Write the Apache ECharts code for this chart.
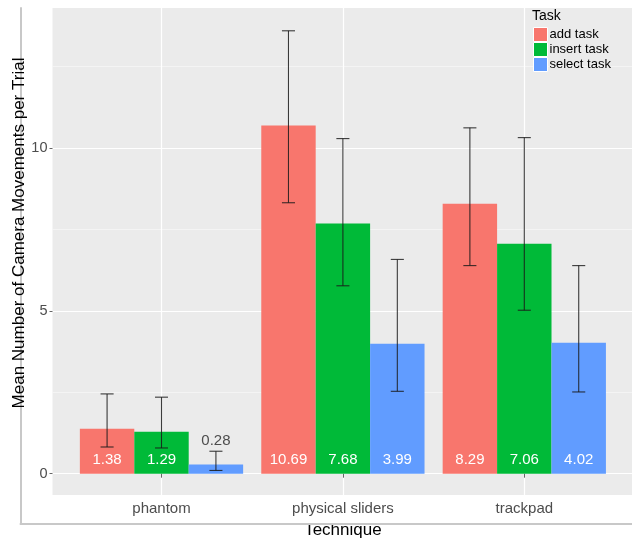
<!DOCTYPE html>
<html>
<head>
<meta charset="utf-8">
<script src="https://cdn.jsdelivr.net/npm/echarts@6/dist/echarts.min.js"></script>
<style>
html,body{margin:0;padding:0;background:#fff;}
#chart{width:632px;height:539px;}
</style>
</head>
<body>
<div id="chart"></div>
<script>
const categories = ['phantom', 'physical sliders', 'trackpad'];
const seriesNames = ['add task', 'insert task', 'select task'];
const addTask = [1.38, 10.69, 8.29];
const insertTask = [1.29, 7.68, 7.06];
const selectTask = [0.28, 3.99, 4.02];
const addLow = [0.82, 8.32, 6.39];
const addHigh = [2.45, 13.60, 10.62];
const insertLow = [0.79, 5.77, 5.02];
const insertHigh = [2.35, 10.29, 10.32];
const selectLow = [0.10, 2.53, 2.51];
const selectHigh = [0.69, 6.58, 6.39];
const colors = ['#F8766D', '#00BA38', '#619CFF'];
const xTitle = 'Technique';
const yTitle = 'Mean Number of Camera Movements per Trial';
const legendTitle = 'Task';

const FONT = '"Liberation Sans", Arial, Helvetica, sans-serif';
const chart = echarts.init(document.getElementById('chart'), null, {renderer: 'canvas'});

const values = [addTask, insertTask, selectTask];
const lows = [addLow, insertLow, selectLow];
const highs = [addHigh, insertHigh, selectHigh];

const errData = [];
for (let s = 0; s < 3; s++) {
  for (let c = 0; c < categories.length; c++) {
    errData.push([c, s, lows[s][c], highs[s][c]]);
  }
}

const barSeries = seriesNames.map((name, s) => ({
  name: name,
  type: 'bar',
  xAxisIndex: 2,
  yAxisIndex: 2,
  barGap: '0%',
  barCategoryGap: '10%',
  itemStyle: {color: colors[s]},
  label: {
    show: true,
    position: 'insideBottom',
    distance: 6,
    color: '#ffffff',
    fontSize: 15,
    lineHeight: 15,
    fontFamily: FONT,
    formatter: (p) => p.value.toFixed(2)
  },
  data: values[s].map((v) => {
    if (v < 1) {
      return {value: v, label: {position: 'top', color: '#4D4D4D', distance: 16}};
    }
    return v;
  }),
  z: 3
}));

const hiddenAxis = (type, grid) => ({
  type: type, gridIndex: grid, show: false
});

chart.setOption({
  animation: false,
  textStyle: {fontFamily: FONT},
  title: {
    text: legendTitle,
    left: 532,
    top: 9,
    padding: 0,
    textStyle: {fontSize: 14, fontWeight: 'normal', color: '#000', fontFamily: FONT}
  },
  legend: {
    data: seriesNames,
    orient: 'vertical',
    left: 533,
    top: 27,
    padding: 0,
    itemGap: 0,
    itemWidth: 14,
    itemHeight: 14,
    icon: 'rect',
    itemStyle: {borderColor: '#ffffff', borderWidth: 1},
    textStyle: {fontSize: 13, color: '#000', fontFamily: FONT, padding: [0, 0, 0, -3]}
  },
  grid: [
    {left: 52.5, right: 0, top: 8, bottom: 44, show: true, backgroundColor: '#EBEBEB', borderWidth: 0, outerBoundsMode: 'none'},
    {left: 52.5, right: 0, top: -14.85, height: 488.55, outerBoundsMode: 'none'},
    {left: 70.8, right: 17, top: 8, bottom: 44, outerBoundsMode: 'none'},
    {left: 20.5, right: 0, top: 8, bottom: 15.5, outerBoundsMode: 'none'},
    {left: 52.5, top: 8, height: 450, right: 0, outerBoundsMode: 'none'}
  ],
  xAxis: [
    hiddenAxis('value', 0),
    hiddenAxis('value', 1),
    {
      type: 'category',
      gridIndex: 2,
      data: categories,
      boundaryGap: true,
      axisLine: {show: false},
      axisTick: {show: true, alignWithLabel: true, length: 4, lineStyle: {color: '#666'}},
      splitLine: {show: true, alignWithLabel: true, lineStyle: {color: '#ffffff', width: 1.2}},
      axisLabel: {color: '#4D4D4D', fontSize: 15, margin: 6, fontFamily: FONT},
      name: xTitle,
      nameLocation: 'middle',
      nameGap: 27,
      nameTextStyle: {color: '#000', fontSize: 17, fontFamily: FONT}
    },
    {
      type: 'value', gridIndex: 3, min: 0, max: 1,
      axisLine: {show: true, onZero: false, lineStyle: {color: '#C8C8C8', width: 2}},
      axisTick: {show: false}, axisLabel: {show: false}, splitLine: {show: false}
    },
    hiddenAxis('value', 4)
  ],
  yAxis: [
    hiddenAxis('value', 0),
    {
      type: 'value',
      gridIndex: 1,
      min: 0,
      max: 15,
      interval: 5,
      axisLine: {show: false},
      axisTick: {show: true, length: 3, lineStyle: {color: '#666'}},
      axisLabel: {color: '#4D4D4D', fontSize: 14.5, margin: 5, fontFamily: FONT},
      splitLine: {show: true, lineStyle: {color: '#ffffff', width: 1.2}},
      minorTick: {show: false, splitNumber: 2},
      minorSplitLine: {show: true, lineStyle: {color: '#F6F6F6', width: 0.8}}
    },
    {
      type: 'value', gridIndex: 2, min: -0.654, max: 14.3,
      axisLine: {show: false}, axisTick: {show: false}, axisLabel: {show: false}, splitLine: {show: false}
    },
    {
      type: 'value', gridIndex: 3, min: 0, max: 1,
      axisLine: {show: true, onZero: false, lineStyle: {color: '#C8C8C8', width: 2}},
      axisTick: {show: false}, axisLabel: {show: false}, splitLine: {show: false}
    },
    {
      type: 'value', gridIndex: 4, min: 0, max: 1,
      axisLine: {show: false}, axisTick: {show: false}, axisLabel: {show: false}, splitLine: {show: false},
      name: yTitle,
      nameLocation: 'middle',
      nameGap: 25,
      nameRotate: 90,
      nameTextStyle: {color: '#000', fontSize: 17, fontFamily: FONT}
    }
  ],
  series: barSeries.concat([{
    type: 'custom',
    name: 'errorbars',
    xAxisIndex: 2,
    yAxisIndex: 2,
    encode: {x: 0, y: [2, 3]},
    z: 4,
    silent: true,
    renderItem: function (params, api) {
      const c = api.value(0);
      const s = api.value(1);
      const band = api.size([1, 0])[0];
      const barW = band * 0.9 / 3;
      const x = api.coord([c, 0])[0] + (s - 1) * barW;
      const yLo = api.coord([c, api.value(2)])[1];
      const yHi = api.coord([c, api.value(3)])[1];
      const half = barW * 0.12;
      const style = {stroke: '#1a1a1a', lineWidth: 1.1, opacity: 0.85};
      return {
        type: 'group',
        children: [
          {type: 'line', shape: {x1: x, y1: yLo, x2: x, y2: yHi}, style: style},
          {type: 'line', shape: {x1: x - half, y1: yHi, x2: x + half, y2: yHi}, style: style},
          {type: 'line', shape: {x1: x - half, y1: yLo, x2: x + half, y2: yLo}, style: style}
        ]
      };
    },
    data: errData
  }])
});
</script>
</body>
</html>
